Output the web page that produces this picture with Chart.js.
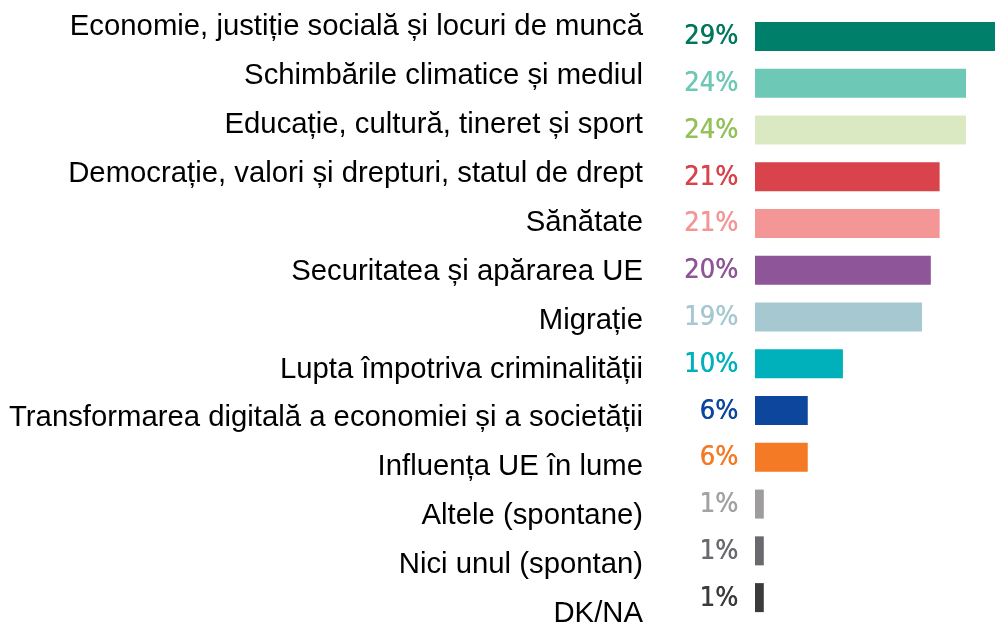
<!DOCTYPE html>
<html lang="ro">
<head>
<meta charset="utf-8">
<title>Teme prioritare</title>
<script src="https://cdn.jsdelivr.net/npm/chart.js@4.4.1/dist/chart.umd.min.js"></script>
<style>
  html, body { margin: 0; padding: 0; background: #fff; }
  #wrap { width: 995px; height: 623px; position: relative; }
</style>
</head>
<body>
<div id="wrap"><canvas id="myChart"></canvas></div>
<script>
const categorii = [
  "Economie, justiție socială și locuri de muncă",
  "Schimbările climatice și mediul",
  "Educație, cultură, tineret și sport",
  "Democrație, valori și drepturi, statul de drept",
  "Sănătate",
  "Securitatea și apărarea UE",
  "Migrație",
  "Lupta împotriva criminalității",
  "Transformarea digitală a economiei și a societății",
  "Influența UE în lume",
  "Altele (spontane)",
  "Nici unul (spontan)",
  "DK/NA"
];
const procente = [29, 24, 24, 21, 21, 20, 19, 10, 6, 6, 1, 1, 1];
const culoriBare = [
  "#00806a", "#6dc8b6", "#dbe9c3", "#d8434c", "#f49596", "#8f5599", "#a6c9d1",
  "#00b1bc", "#0c479d", "#f47a25", "#9e9c9c", "#6a6a6e", "#3b3b3b"
];
const culoriEtichete = [
  "#00775f", "#6dc8b6", "#93c15a", "#d8434c", "#f49596", "#8f5599", "#a6c9d1",
  "#00b1bc", "#0c479d", "#f47a25", "#a3a1a1", "#6a6a6e", "#3b3b3b"
];

// procentele din stanga barelor
const eticheteProcent = {
  id: 'eticheteProcent',
  afterDatasetsDraw(chart) {
    const ctx = chart.ctx;
    const meta = chart.getDatasetMeta(0);
    ctx.save();
    ctx.font = '27px "DejaVu Sans Condensed", "DejaVu Sans", sans-serif';
    ctx.textAlign = 'right';
    ctx.textBaseline = 'middle';
    meta.data.forEach((bar, i) => {
      ctx.fillStyle = culoriEtichete[i];
      // trecere dubla, pentru un font ceva mai gros
      ctx.fillText(procente[i] + '%', chart.chartArea.left - 17, bar.y + 1);
      ctx.fillText(procente[i] + '%', chart.chartArea.left - 16.5, bar.y + 1);
    });
    ctx.restore();
  }
};

const ctx = document.getElementById('myChart');
const chart = new Chart(ctx, {
  type: 'bar',
  data: {
    labels: categorii,
    datasets: [{
      data: procente,
      backgroundColor: culoriBare,
      borderWidth: 0,
      barPercentage: 0.62,
      categoryPercentage: 1,
      yAxisID: 'y'
    }]
  },
  options: {
    indexAxis: 'y',
    responsive: true,
    maintainAspectRatio: false,
    animation: false,
    layout: { padding: { top: 13, bottom: 2, left: 0, right: 0 } },
    plugins: {
      legend: { display: false },
      tooltip: { enabled: false }
    },
    scales: {
      x: {
        display: false,
        min: 0,
        max: 27.3
      },
      y: {
        display: false
      },
      // axa cu textele categoriilor, putin mai rasfirata decat barele
      yl: {
        type: 'linear',
        position: 'left',
        reverse: true,
        offset: false,
        min: -0.286,
        max: 12.142,
        grid: { display: false, drawTicks: false },
        border: { display: false },
        afterBuildTicks(scale) {
          scale.ticks = categorii.map((c, i) => ({ value: i }));
        },
        afterFit(scale) {
          // latimea fixa a coloanei de texte; fara spatiu sus/jos
          scale.width = 755;
          scale.paddingTop = 0;
          scale.paddingBottom = 0;
        },
        ticks: {
          autoSkip: false,
          padding: 112,
          color: '#000',
          font: { family: '"Liberation Sans", Arial, sans-serif', size: 29.3 },
          callback: (v) => categorii[v]
        }
      }
    }
  },
  plugins: [eticheteProcent]
});
</script>
</body>
</html>
